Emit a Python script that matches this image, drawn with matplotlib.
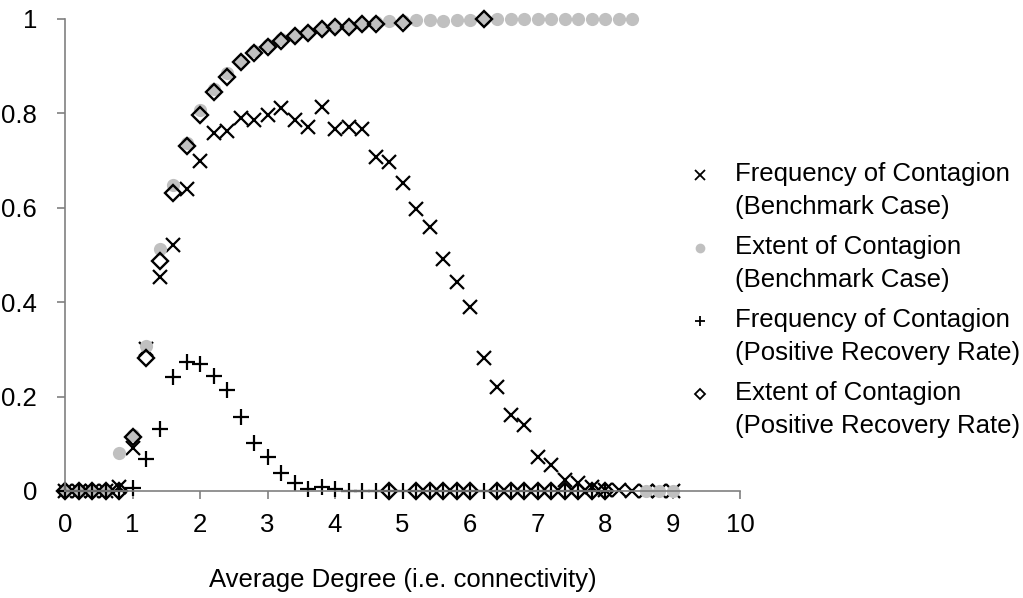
import matplotlib
matplotlib.use("Agg")
import matplotlib.pyplot as plt
from matplotlib.lines import Line2D

plt.rcParams['font.family'] = ['Liberation Sans', 'DejaVu Sans']

# average degree grid
x_bench = [0.0, 0.2, 0.4, 0.6, 0.8, 1.0, 1.2, 1.4, 1.6, 1.8,
           2.0, 2.2, 2.4, 2.6, 2.8, 3.0, 3.2, 3.4, 3.6, 3.8,
           4.0, 4.2, 4.4, 4.6, 4.8, 5.0, 5.2, 5.4, 5.6, 5.8,
           6.0, 6.2, 6.4, 6.6, 6.8, 7.0, 7.2, 7.4, 7.6, 7.8,
           8.0, 8.2, 8.4, 8.6, 8.8, 9.0]
x_recov = x_bench[:41]

freq_bench = [0, 0, 0, 0, 0.008, 0.092, 0.30, 0.453, 0.521, 0.640,
              0.700, 0.759, 0.763, 0.790, 0.787, 0.797, 0.811, 0.787, 0.771, 0.814,
              0.766, 0.771, 0.766, 0.708, 0.696, 0.653, 0.597, 0.559, 0.492, 0.442,
              0.390, 0.281, 0.221, 0.162, 0.140, 0.073, 0.055, 0.023, 0.016, 0.008,
              0.003, 0.002, 0, 0, 0, 0]
ext_bench = [0, 0, 0, 0, 0.080, 0.118, 0.307, 0.513, 0.648, 0.738,
             0.807, 0.852, 0.886, 0.912, 0.932, 0.945, 0.957, 0.966, 0.973, 0.979,
             0.985, 0.986, 0.990, 0.994, 0.996, 0.996, 0.997, 0.997, 0.996, 0.997,
             0.997, 0.999, 0.999, 1.0, 1.0, 1.0, 1.0, 1.0, 1.0, 1.0,
             1.0, 1.0, 1.0, 0, 0, 0]
freq_recov = [0, 0, 0, 0, 0, 0.006, 0.068, 0.131, 0.241, 0.274,
              0.270, 0.244, 0.215, 0.157, 0.102, 0.071, 0.039, 0.016, 0.004, 0.008,
              0.004, 0, 0, 0, 0, 0, 0, 0, 0, 0,
              0, 0, 0, 0, 0, 0, 0, 0, 0, 0,
              0]
ext_recov = [0, 0, 0, 0, 0, 0.115, 0.281, 0.488, 0.632, 0.731,
             0.797, 0.846, 0.878, 0.908, 0.929, 0.941, 0.954, 0.963, 0.971, 0.978,
             0.984, 0.984, 0.989, 0.989, 0, 0.992, 0, 0, 0, 0,
             0, 1.0, 0, 0, 0, 0, 0, 0, 0, 0,
             0]

labels = [("Frequency of Contagion", "(Benchmark Case)"),
          ("Extent of Contagion", "(Benchmark Case)"),
          ("Frequency of Contagion", "(Positive Recovery Rate)"),
          ("Extent of Contagion", "(Positive Recovery Rate)")]

FS = 18.5
W, H = 1023, 598

styles = [
    dict(marker='x', markersize=10, mew=1.6, color='black'),
    dict(marker='o', markersize=9.5, mew=0, color='#c0c0c0'),
    dict(marker='+', markersize=11, mew=1.6, color='black'),
    dict(marker='D', markersize=8, mew=1.7, color='black', fillstyle='none'),
]

fig = plt.figure(figsize=(W / 100, H / 100), dpi=100)
ax = fig.add_axes([65 / W, 1 - 491 / H, 675 / W, 472 / H])

ax.plot(x_bench, freq_bench, linestyle='none', clip_on=False, **styles[0])
ax.plot(x_bench, ext_bench, linestyle='none', clip_on=False, **styles[1])
ax.plot(x_recov, freq_recov, linestyle='none', clip_on=False, **styles[2])
ax.plot(x_recov, ext_recov, linestyle='none', clip_on=False, **styles[3])

ax.set_xlim(0, 10)
ax.set_ylim(0, 1)
ax.set_xticks(range(0, 11))
ax.set_yticks([0, 0.2, 0.4, 0.6, 0.8, 1])
ax.set_yticklabels(["0", "0.2", "0.4", "0.6", "0.8", "1"])

for side in ['top', 'right']:
    ax.spines[side].set_visible(False)
for side in ['left', 'bottom']:
    ax.spines[side].set_color('#808080')
    ax.spines[side].set_linewidth(1.2)
ax.tick_params(axis='both', direction='out', length=6, width=1.2,
               color='#808080', labelsize=FS)
ax.tick_params(axis='y', pad=14)
ax.tick_params(axis='x', pad=10)

ax.set_xlabel("Average Degree (i.e. connectivity)", fontsize=FS, labelpad=22)

# legend: marker sits beside the first line of each two-line label
legend_sizes = [7, 7, 7.5, 5.5]
for i, (line1, line2) in enumerate(labels):
    y_top = 172 + 73 * i
    st = dict(styles[i])
    st['markersize'] = legend_sizes[i]
    st['mew'] = min(st['mew'], 1.3)
    fig.add_artist(Line2D([700 / W], [1 - (y_top + 3) / H], linestyle='none',
                          transform=fig.transFigure, **st))
    fig.text(735 / W, 1 - (y_top + 9) / H, line1, fontsize=FS, va='baseline')
    fig.text(735 / W, 1 - (y_top + 42) / H, line2, fontsize=FS, va='baseline')

fig.savefig("out.png", dpi=100)
